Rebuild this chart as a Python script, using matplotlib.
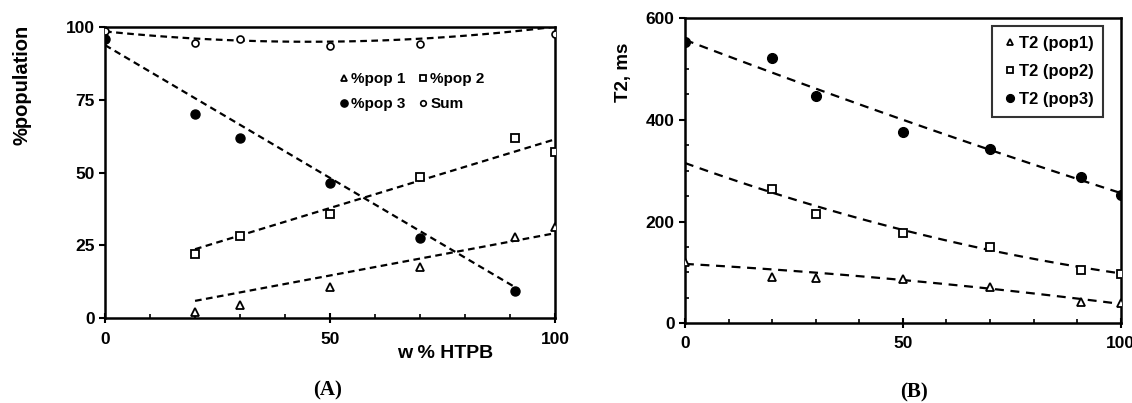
import matplotlib
matplotlib.use('Agg')
import matplotlib.pyplot as plt
import numpy as np
from matplotlib.ticker import MultipleLocator

plt.rcParams['font.family'] = ['Liberation Sans', 'DejaVu Sans']

# panel A: % population vs w% HTPB
x_a = [0, 20, 30, 50, 70, 91, 100]
pop1_a = [None, 2.3, 4.6, 10.6, 17.7, 27.8, 31.2]
pop2_a = [None, 22.0, 28.2, 35.8, 48.4, 61.7, 57.1]
pop3_a = [95.7, 70.0, 62.0, 46.5, 27.4, 9.5, None]
sum_a = [98.4, 94.6, 95.7, 93.5, 94.1, None, 97.5]

# trendlines (poly coeffs, x range)
fit_pop1_a = [0.29, 0.2]
fit_pop2_a = [0.471, 14.3]
fit_pop3_a = [-0.911, 93.7]
fit_sum_a = [0.00172, -0.156, 98.4]
rng_pop1_a = [20, 100]
rng_pop2_a = [20, 100]
rng_pop3_a = [0, 91]
rng_sum_a = [0, 100]

# panel B: T2 vs w% HTPB
x_b = [0, 20, 30, 50, 70, 91, 100]
t2_pop1 = [121, 91.7, 89.7, 87, 70.8, 41.3, 40.5]
t2_pop2 = [None, 263.6, 214.4, 178, 150.7, 104.9, 96.4]
t2_pop3 = [553, 521, 447, 375, 342, 288, 252]

fit_t2_pop1 = [-0.00306, -0.481, 116.7]
fit_t2_pop2 = [0.0092, -3.09, 315]
fit_t2_pop3 = [0.0026, -3.27, 557]


def pts(xs, ys):
    xx = [a for a, b in zip(xs, ys) if b is not None]
    yy = [b for b in ys if b is not None]
    return xx, yy


def trend(ax, coef, rng, dashes):
    xx = np.linspace(rng[0], rng[1], 100)
    ax.plot(xx, np.polyval(coef, xx), color='black', lw=1.6, dashes=dashes, zorder=2)


def style(ax):
    for s in ax.spines.values():
        s.set_linewidth(1.8)
        s.set_color('black')
    ax.xaxis.set_major_locator(MultipleLocator(50))
    ax.xaxis.set_minor_locator(MultipleLocator(10))
    ax.tick_params(axis='x', which='major', direction='inout', length=7, width=1.5, pad=6)
    ax.tick_params(axis='x', which='minor', direction='in', length=3, width=1.2)
    ax.tick_params(axis='y', which='major', direction='out', length=4, width=1.5)
    ax.tick_params(labelsize=12.5)
    for lb in ax.get_xticklabels() + ax.get_yticklabels():
        lb.set_fontweight('bold')


fig = plt.figure(figsize=(11.32, 4.03), dpi=100)

# ---- A
ax1 = fig.add_axes([0.0928, 0.210, 0.3975, 0.7236])
trend(ax1, fit_sum_a, rng_sum_a, (3, 2))
trend(ax1, fit_pop3_a, rng_pop3_a, (3, 2))
trend(ax1, fit_pop2_a, rng_pop2_a, (3, 2))
trend(ax1, fit_pop1_a, rng_pop1_a, (3, 2))
xx, yy = pts(x_a, pop1_a)
ax1.plot(xx, yy, '^', ms=5.5, mfc='white', mec='black', mew=1.3, ls='none', label='%pop 1', zorder=3)
xx, yy = pts(x_a, pop2_a)
ax1.plot(xx, yy, 's', ms=5.5, mfc='white', mec='black', mew=1.3, ls='none', label='%pop 2', zorder=3)
xx, yy = pts(x_a, pop3_a)
ax1.plot(xx, yy, 'o', ms=6.5, mfc='black', mec='black', ls='none', label='%pop 3', zorder=3)
xx, yy = pts(x_a, sum_a)
ax1.plot(xx, yy, 'o', ms=5, mfc='white', mec='black', mew=1.2, ls='none', label='Sum', zorder=3)
ax1.set_xlim(0, 100)
ax1.set_ylim(0, 100)
ax1.set_yticks([0, 25, 50, 75, 100])
style(ax1)
h, l = ax1.get_legend_handles_labels()
ax1.legend([h[0], h[2], h[1], h[3]], [l[0], l[2], l[1], l[3]], ncol=2, frameon=False,
           loc='upper left', bbox_to_anchor=(0.50, 0.866), markerscale=0.8,
           handletextpad=0.0, handlelength=1.0, columnspacing=0.6, labelspacing=0.75,
           borderaxespad=0, prop={'size': 11, 'weight': 'bold'})
fig.text(0.019, 0.79, '%population', rotation=90, ha='center', va='center',
         fontsize=14.5, fontweight='bold')
fig.text(0.393, 0.124, 'w % HTPB', ha='center', va='center', fontsize=14, fontweight='bold')
fig.text(0.289, 0.032, '(A)', ha='center', va='center', fontsize=15, fontweight='bold',
         family=['Liberation Serif', 'DejaVu Serif'])

# ---- B
ax2 = fig.add_axes([0.6051, 0.1978, 0.3849, 0.7576])
trend(ax2, fit_t2_pop3, [0, 100], (4, 3))
trend(ax2, fit_t2_pop2, [0, 100], (4, 3))
trend(ax2, fit_t2_pop1, [0, 100], (4, 3))
xx, yy = pts(x_b, t2_pop1)
ax2.plot(xx, yy, '^', ms=5.5, mfc='white', mec='black', mew=1.3, ls='none', label='T2 (pop1)', zorder=3)
xx, yy = pts(x_b, t2_pop2)
ax2.plot(xx, yy, 's', ms=5.5, mfc='white', mec='black', mew=1.3, ls='none', label='T2 (pop2)', zorder=3)
xx, yy = pts(x_b, t2_pop3)
ax2.plot(xx, yy, 'o', ms=7, mfc='black', mec='black', ls='none', label='T2 (pop3)', zorder=3)
ax2.set_xlim(0, 100)
ax2.set_ylim(0, 600)
ax2.yaxis.set_major_locator(MultipleLocator(200))
ax2.yaxis.set_minor_locator(MultipleLocator(50))
style(ax2)
ax2.tick_params(axis='y', which='minor', direction='in', length=3, width=1.2)
leg = ax2.legend(loc='upper right', bbox_to_anchor=(0.96, 0.975), fancybox=False,
                 edgecolor='black', handletextpad=0.0, handlelength=1.0, markerscale=0.8,
                 labelspacing=0.8, borderpad=0.6, borderaxespad=0,
                 prop={'size': 12, 'weight': 'bold'})
leg.get_frame().set_linewidth(1.5)
fig.text(0.551, 0.82, 'T2, ms', rotation=90, ha='center', va='center', fontsize=13.5, fontweight='bold')
fig.text(0.807, 0.027, '(B)', ha='center', va='center', fontsize=15, fontweight='bold',
         family=['Liberation Serif', 'DejaVu Serif'])

fig.savefig('out.png', dpi=100)
